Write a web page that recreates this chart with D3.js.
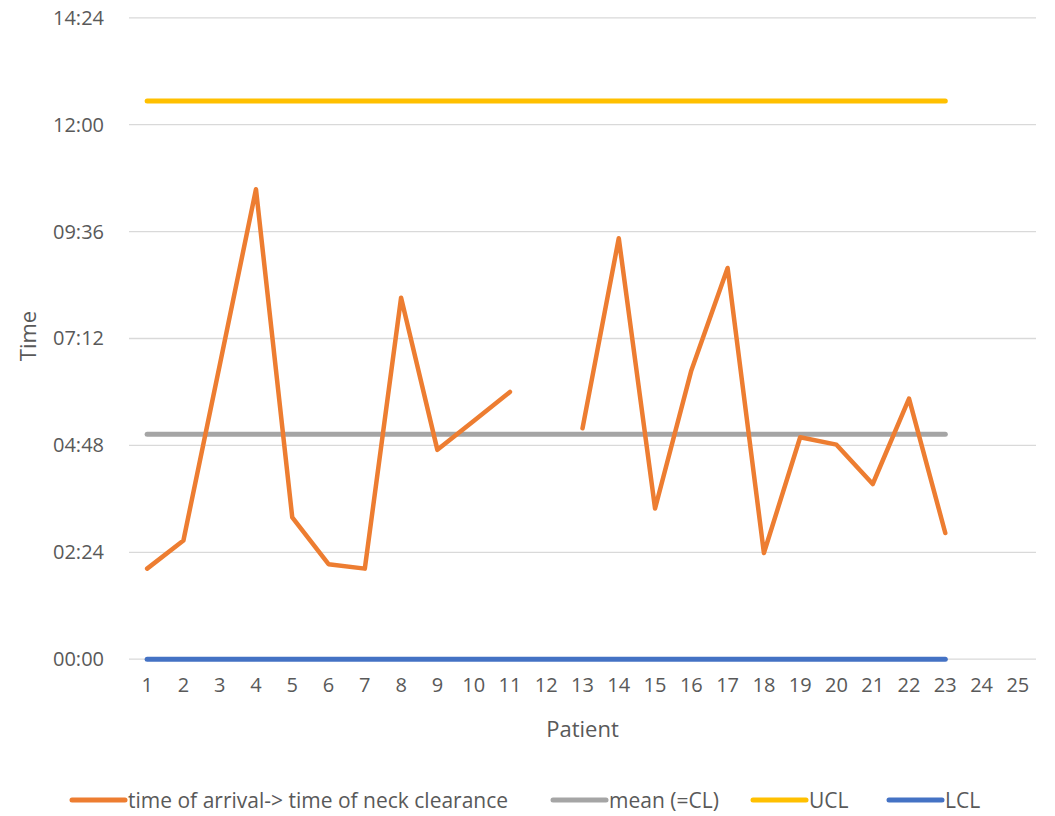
<!DOCTYPE html>
<html>
<head>
<meta charset="utf-8">
<script src="https://cdn.jsdelivr.net/npm/d3@7"></script>
<style>
  html, body { margin: 0; padding: 0; background: #fff; }
  svg { display: block; }
  text { font-family: "Open Sans", sans-serif; fill: #595959; }
</style>
</head>
<body>
<svg id="chart" width="1055" height="816"></svg>
<script>
// Patients 1..25 (x categories)
const patients = d3.range(1, 26);
// Time of arrival -> time of neck clearance, in minutes (null = missing)
const durations = [122, 160, 396, 633, 191, 128, 122, 487, 282, 321, 360, null,
                   311, 567, 203, 389, 527, 143, 299, 289, 236, 351, 170];
const meanCL = 303;   // mean (=CL), minutes
const ucl = 752;      // UCL, minutes
const lcl = 0;        // LCL, minutes
const controlPatients = d3.range(1, 24);
const yTicks = [0, 144, 288, 432, 576, 720, 864];
const seriesNames = ["time of arrival-> time of neck clearance", "mean (=CL)", "UCL", "LCL"];
const seriesColors = ["#ED7D31", "#A5A5A5", "#FFC000", "#4472C4"];

const fmt = m => String(Math.floor(m / 60)).padStart(2, "0") + ":" + String(m % 60).padStart(2, "0");

const svg = d3.select("#chart");
const pLeft = 129, pRight = 1036, pTop = 17.8, pBottom = 659.2;

const x = d3.scaleBand().domain(patients).range([pLeft, pRight]);
const xc = d => x(d) + x.bandwidth() / 2;
const y = d3.scaleLinear().domain([0, 864]).range([pBottom, pTop]);

// gridlines
svg.append("g").selectAll("line").data(yTicks).join("line")
  .attr("x1", pLeft).attr("x2", pRight)
  .attr("y1", d => y(d)).attr("y2", d => y(d))
  .attr("stroke", "#d9d9d9").attr("stroke-width", 1.3);

// y axis labels
const yAxis = d3.axisLeft(y).tickValues(yTicks).tickFormat(fmt).tickSize(0).tickPadding(0);
const gy = svg.append("g").attr("transform", `translate(${pLeft - 25},0)`).call(yAxis);
gy.select(".domain").remove();
gy.selectAll("text").attr("font-size", 20).attr("fill", "#595959").attr("font-family", "Open Sans, sans-serif");

// x axis labels
const xAxis = d3.axisBottom(x).tickSize(0).tickPadding(0);
const gx = svg.append("g").attr("transform", `translate(0,${pBottom + 19})`).call(xAxis);
gx.select(".domain").remove();
gx.selectAll("text").attr("font-size", 20).attr("fill", "#595959").attr("font-family", "Open Sans, sans-serif");

// axis titles
svg.append("text").attr("x", xc(13)).attr("y", 737).attr("text-anchor", "middle")
  .attr("font-size", 22).text("Patient");
svg.append("text").attr("transform", `translate(36,336) rotate(-90)`).attr("text-anchor", "middle")
  .attr("font-size", 22).text("Time");

// control lines
const hline = (val, color) => {
  svg.append("path")
    .datum(controlPatients)
    .attr("d", d3.line().x(d => xc(d)).y(() => y(val)))
    .attr("fill", "none").attr("stroke", color).attr("stroke-width", 5)
    .attr("stroke-linecap", "round");
};
hline(meanCL, seriesColors[1]);
hline(ucl, seriesColors[2]);
hline(lcl, seriesColors[3]);

// main series
const data = durations.map((v, i) => ({p: patients[i], v}));
svg.append("path")
  .datum(data)
  .attr("d", d3.line().defined(d => d.v !== null).x(d => xc(d.p)).y(d => y(d.v)))
  .attr("fill", "none").attr("stroke", seriesColors[0]).attr("stroke-width", 4.5)
  .attr("stroke-linecap", "round").attr("stroke-linejoin", "round");

// legend
const legendX = [72, 553, 753, 889];
const lg = svg.append("g");
seriesNames.forEach((name, i) => {
  lg.append("line").attr("x1", legendX[i]).attr("x2", legendX[i] + 53)
    .attr("y1", 800).attr("y2", 800)
    .attr("stroke", seriesColors[i]).attr("stroke-width", 5).attr("stroke-linecap", "round");
  lg.append("text").attr("x", legendX[i] + 56).attr("y", 807.5)
    .attr("font-size", 21).text(name);
});
</script>
</body>
</html>
